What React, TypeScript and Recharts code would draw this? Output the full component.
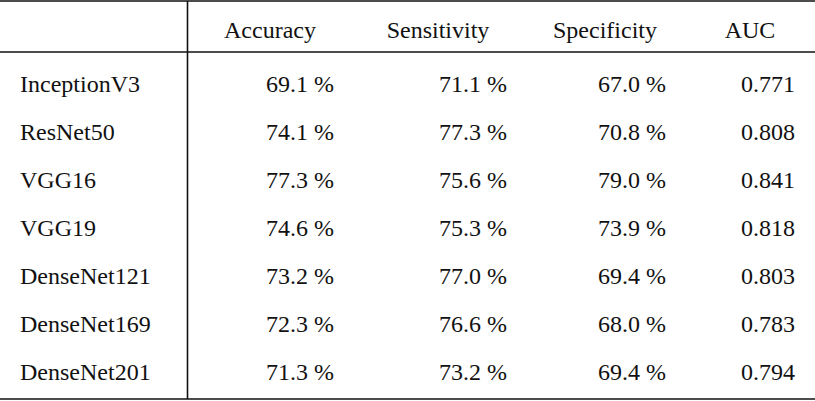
import { ScatterChart, Scatter, XAxis, YAxis, ReferenceLine } from 'recharts';

const HEADERS = ['Accuracy', 'Sensitivity', 'Specificity', 'AUC'];
const MODELS = ['InceptionV3', 'ResNet50', 'VGG16', 'VGG19', 'DenseNet121', 'DenseNet169', 'DenseNet201'];
const ACCURACY = [69.1, 74.1, 77.3, 74.6, 73.2, 72.3, 71.3];
const SENSITIVITY = [71.1, 77.3, 75.6, 75.3, 77.0, 76.6, 73.2];
const SPECIFICITY = [67.0, 70.8, 79.0, 73.9, 69.4, 68.0, 69.4];
const AUC = [0.771, 0.808, 0.841, 0.818, 0.803, 0.783, 0.794];

// layout (pixels in the 815 wide x-domain)
const W = 815;
const H = 401;
const ROW_H = 48;
const FIRST = 44; // baseline of row 0
const NAME_X = 20;
const VALUE_X = [334, 507, 666, 795]; // right edges of value columns
const HEAD_X = [270, 438, 605, 750]; // centres of header labels
const DIVIDER_X = 187.5;
const RULES = [1, 52, 399];

const toRow = (px: number) => (px - FIRST) / ROW_H;

const COLUMNS = [ACCURACY, SENSITIVITY, SPECIFICITY, AUC];
const fmt = (c: number, v: number) => (c === 3 ? v.toFixed(3) : v.toFixed(1) + ' %');

const headerCells = HEADERS.map((h, c) => ({ x: HEAD_X[c], row: 0, text: h, anchor: 'middle' }));
const bodyCells = MODELS.flatMap((m, i) => [
  { x: NAME_X, row: i + 1, text: m, anchor: 'start' },
  ...COLUMNS.map((col, c) => ({ x: VALUE_X[c], row: i + 1, text: fmt(c, col[i]), anchor: 'end' })),
]);

const FONT = "'Liberation Serif', 'Times New Roman', Times, serif";

function Cell(props: any, dy = 0) {
  const { cx, cy, payload } = props;
  return (
    <text
      x={cx}
      y={cy + dy}
      textAnchor={payload.anchor}
      style={{ fontFamily: FONT, fontSize: 24, fill: '#111' }}
    >
      {payload.text}
    </text>
  );
}

export default function App() {
  return (
    <div
      style={{
        position: 'fixed',
        left: 0,
        top: 0,
        width: W,
        height: H,
        background: '#fff',
        fontFamily: FONT,
      }}
    >
      <ScatterChart width={W} height={H} margin={{ top: 0, right: 0, bottom: 0, left: 0 }}>
        <XAxis type="number" dataKey="x" domain={[0, W]} hide allowDataOverflow />
        <YAxis
          type="number"
          dataKey="row"
          domain={[toRow(0), toRow(H)]}
          reversed
          hide
          allowDataOverflow
        />
        {RULES.map((r) => (
          <ReferenceLine key={r} y={toRow(r)} stroke="#111" strokeWidth={1.6} ifOverflow="visible" />
        ))}
        <ReferenceLine
          segment={[
            { x: DIVIDER_X, y: toRow(RULES[0]) },
            { x: DIVIDER_X, y: toRow(RULES[2]) },
          ]}
          stroke="#111"
          strokeWidth={1.6}
          ifOverflow="visible"
        />
        <Scatter data={headerCells} isAnimationActive={false} shape={(p: any) => Cell(p, -6)} />
        <Scatter data={bodyCells} isAnimationActive={false} shape={(p: any) => Cell(p)} />
      </ScatterChart>
    </div>
  );
}
